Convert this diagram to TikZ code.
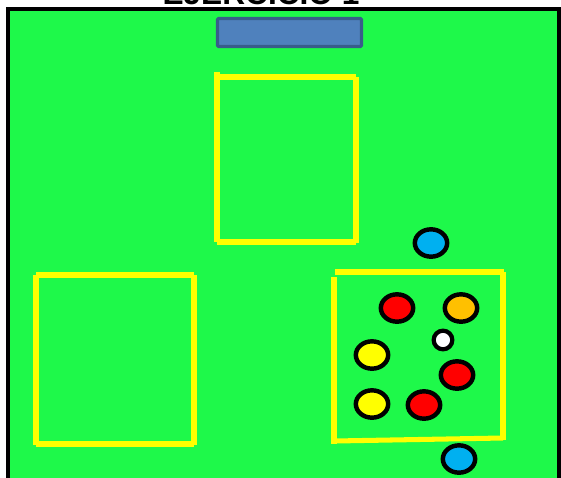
\documentclass[tikz,border=0pt]{standalone}
\usepackage{fontspec}
\setmainfont{Liberation Sans}
\usetikzlibrary{shapes.geometric}
\definecolor{FieldGreen}{RGB}{30,249,74}
\definecolor{ConeYellow}{RGB}{255,255,0}
\definecolor{BarBlue}{RGB}{79,129,189}
\definecolor{BarEdge}{RGB}{56,93,138}
\definecolor{KitBlue}{RGB}{0,176,240}
\definecolor{KitOrange}{RGB}{255,192,0}
\definecolor{KitRed}{RGB}{255,0,0}
\tikzset{
  field/.style={draw=black,fill=FieldGreen,line width=3.6pt},
  zone/.style={draw=ConeYellow,line width=4.3pt},
  player/.style={ellipse,draw=black,line width=3.8pt,inner sep=0pt,
    minimum width=0.97cm,minimum height=0.82cm},
}
\tikzset{ball/.style={circle,draw=black,fill=white,line width=3.6pt,inner sep=0pt,minimum size=0.56cm}, goal/.style={draw=BarEdge,fill=BarBlue,line width=2.8pt,rounded corners=1pt}}
\begin{document}
\begin{tikzpicture}[x=0.03cm,y=-0.03cm]
\useasboundingbox (0,0) rectangle (561,478);
\draw[field] (8,9) rectangle (559,480);
\node[anchor=base,font=\bfseries\fontsize{27}{27}\selectfont] (title) at (261,5) {EJERCICIO 1};
\draw[goal] (217.5,18.5) rectangle (361.5,46.5);
% top zone
\draw[zone] (217,72)--(217,242);
\draw[zone] (217,77)--(356,77);
\draw[zone] (356,77)--(356,243);
\draw[zone] (217,242)--(356,242);
% left zone
\draw[zone] (36,275)--(36,445);
\draw[zone] (36,275)--(194,275);
\draw[zone] (194,275)--(194,445);
\draw[zone] (36,444)--(194,444);
% right zone
\draw[zone] (335,272)--(504,272);
\draw[zone] (334,277)--(334,444);
\draw[zone] (503,272)--(503,440);
\draw[zone] (335,441)--(503,438);
\node[player,fill=KitBlue] (keeper1) at (431,243) {};
\node[player,fill=KitRed] (red1) at (397,308) {};
\node[player,fill=KitOrange] (orange1) at (461,308) {};
\node[ball] (ball) at (443,340) {};
\node[player,fill=ConeYellow] (yellow1) at (372,355) {};
\node[player,fill=KitRed] (red2) at (457,375) {};
\node[player,fill=ConeYellow] (yellow2) at (372,404) {};
\node[player,fill=KitRed] (red3) at (424,405) {};
\node[player,fill=KitBlue] (keeper2) at (459,459) {};
\end{tikzpicture}
\end{document}
